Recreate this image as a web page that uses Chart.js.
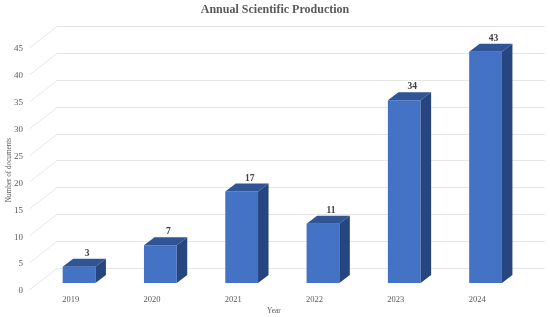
<!DOCTYPE html>
<html>
<head>
<meta charset="utf-8">
<title>Annual Scientific Production</title>
<script src="https://cdn.jsdelivr.net/npm/chart.js@4/dist/chart.umd.min.js"></script>
<style>
    html, body { margin: 0; padding: 0; background: #fff; }
    canvas { display: block; }
</style>
</head>
<body>
<canvas id="productionChart" width="550" height="317"></canvas>
<script>
// Chart data
const years = ['2019', '2020', '2021', '2022', '2023', '2024'];
const documents = [3, 7, 17, 11, 34, 43];

const serif = "'Liberation Serif', 'Times New Roman', serif";

// Fake 3D: the bars stand a bit behind the axis plane, the grid on the back wall
const barShift = { x: 8.4, y: -8 };
const barDepth = { x: 10.5, y: -8 };
const wallDepth = { x: 27, y: -21 };
// Axis plane sits this far under the tick label centres' scale position
const wallDrop = -2;

// Back wall gridlines and the diagonals on the left wall
const wallGrid = {
    id: 'wallGrid',
    beforeDatasetsDraw(chart) {
        const { ctx, chartArea, scales } = chart;
        ctx.save();
        ctx.strokeStyle = '#e6e6e6';
        ctx.lineWidth = 1;
        scales.y.ticks.forEach(tick => {
            const y = Math.round(scales.y.getPixelForValue(tick.value)) + wallDrop + 0.5;
            ctx.beginPath();
            ctx.moveTo(chartArea.left, y);
            ctx.lineTo(chartArea.left + wallDepth.x, y + wallDepth.y);
            ctx.lineTo(chartArea.right + wallDepth.x, y + wallDepth.y);
            ctx.stroke();
        });
        ctx.restore();
    }
};

// Move the bars off the axis plane, then add the top and side faces and the values
const bars3d = {
    id: 'bars3d',
    beforeDatasetDraw(chart) {
        chart.ctx.save();
        chart.ctx.translate(barShift.x, barShift.y);
    },
    afterDatasetDraw(chart, args) {
        const ctx = chart.ctx;
        args.meta.data.forEach((bar, i) => {
            const left = bar.x - bar.width / 2;
            const right = bar.x + bar.width / 2;

            // Top face
            ctx.fillStyle = '#2f5597';
            ctx.beginPath();
            ctx.moveTo(left, bar.y);
            ctx.lineTo(left + barDepth.x, bar.y + barDepth.y);
            ctx.lineTo(right + barDepth.x, bar.y + barDepth.y);
            ctx.lineTo(right, bar.y);
            ctx.closePath();
            ctx.fill();

            // Side face
            ctx.fillStyle = '#27467f';
            ctx.beginPath();
            ctx.moveTo(right, bar.y);
            ctx.lineTo(right + barDepth.x, bar.y + barDepth.y);
            ctx.lineTo(right + barDepth.x, bar.base + barDepth.y);
            ctx.lineTo(right, bar.base);
            ctx.closePath();
            ctx.fill();

            // Value label
            ctx.fillStyle = '#404040';
            ctx.font = 'bold 9.5px ' + serif;
            ctx.textAlign = 'center';
            ctx.textBaseline = 'middle';
            ctx.fillText(documents[i], bar.x + 8, bar.y - 13.5);
        });
        ctx.restore();
    }
};

const productionCtx = document.getElementById('productionChart').getContext('2d');
const productionChart = new Chart(productionCtx, {
    type: 'bar',
    data: {
        labels: years,
        datasets: [{
            label: 'Number of documents',
            data: documents,
            backgroundColor: '#4472c4',
            borderWidth: 0,
            categoryPercentage: 1,
            barPercentage: 0.403,
            clip: false
        }]
    },
    options: {
        responsive: false,
        animation: false,
        plugins: {
            legend: { display: false },
            tooltip: { enabled: false },
            title: {
                display: true,
                text: 'Annual Scientific Production',
                color: '#595959',
                font: { family: serif, size: 12, weight: 'bold' },
                padding: { top: 3, bottom: 31.6 }
            }
        },
        scales: {
            x: {
                grid: { display: false, drawTicks: false },
                border: { display: false },
                ticks: {
                    color: '#595959',
                    font: { family: serif, size: 8.5 },
                    padding: 4,
                    maxRotation: 0
                },
                title: {
                    display: true,
                    text: 'Year',
                    color: '#595959',
                    font: { family: serif, size: 7.5 },
                    padding: { top: 2, bottom: 1 }
                },
                afterFit(scale) { scale.height = 26; }
            },
            y: {
                min: 0,
                max: 45,
                grid: { display: false, drawTicks: false },
                border: { display: false },
                ticks: {
                    stepSize: 5,
                    color: '#595959',
                    font: { family: serif, size: 9 },
                    padding: 7
                },
                title: {
                    display: true,
                    text: 'Number of documents',
                    color: '#595959',
                    font: { family: serif, size: 7.2 },
                    padding: { top: 4.5, bottom: 0 }
                },
                afterFit(scale) { scale.width = 30; }
            },
            // Empty axis that keeps room on the right, so the title stays centred on the page
            rightGap: {
                position: 'right',
                grid: { display: false, drawTicks: false },
                border: { display: false },
                ticks: { display: false },
                afterFit(scale) { scale.width = 32.2; }
            }
        }
    },
    plugins: [wallGrid, bars3d]
});
</script>
</body>
</html>
